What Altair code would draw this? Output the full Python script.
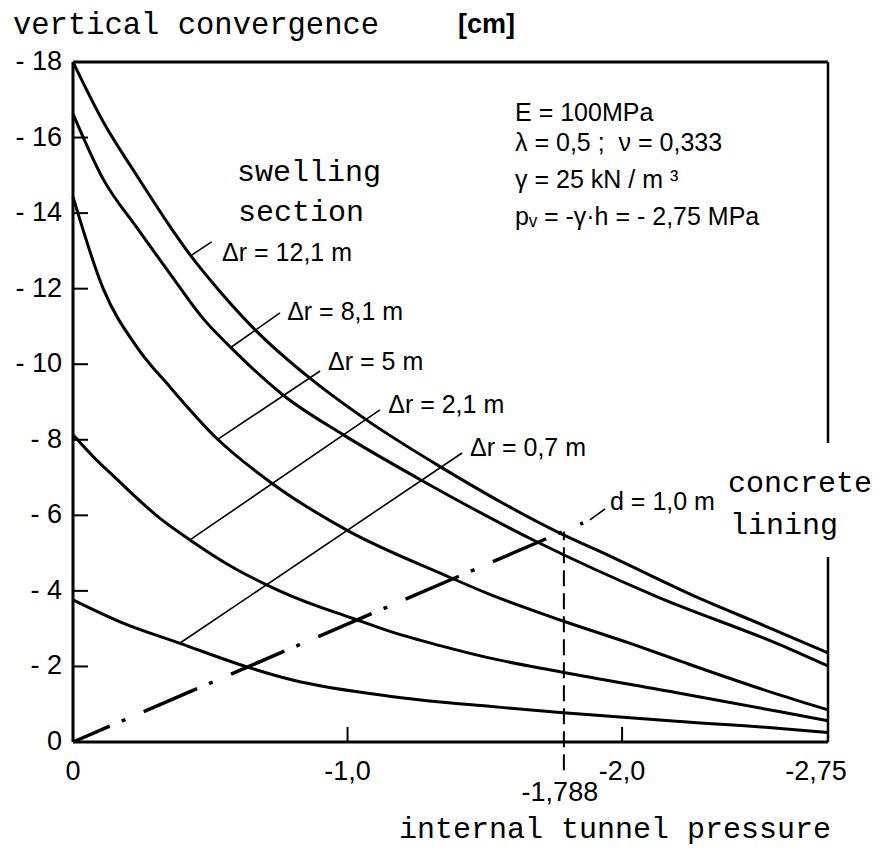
import altair as alt
import pandas as pd

# ---------------- curve data (internal pressure p [MPa], convergence u [cm]) ----------------
p_121 = [0, -0.11, -0.232, -0.353, -0.426, -0.536, -0.669, -0.863, -1.07, -1.337, -1.762, -1.956, -2.295, -2.515, -2.75]
u_121 = [-18.0, -16.42, -15.0, -13.65, -12.9, -11.92, -10.87, -9.63, -8.52, -7.29, -5.57, -4.92, -3.76, -3.09, -2.36]

p_81 = [0, -0.11, -0.232, -0.353, -0.475, -0.578, -0.766, -0.985, -1.264, -1.689, -2.126, -2.576, -2.75]
u_81 = [-16.63, -14.9, -13.62, -12.4, -11.2, -10.42, -9.18, -8.13, -6.95, -5.30, -3.85, -2.57, -2.01]

p_5 = [0, -0.11, -0.232, -0.353, -0.523, -0.724, -0.997, -1.36, -1.507, -1.774, -2.03, -2.22, -2.576, -2.75]
u_5 = [-14.43, -12.0, -10.46, -9.40, -8.04, -6.85, -5.61, -4.40, -3.94, -3.23, -2.61, -2.12, -1.24, -0.85]

p_21 = [0, -0.086, -0.146, -0.317, -0.426, -0.583, -0.705, -0.80, -1.02, -1.166, -1.337, -1.507, -1.774, -2.21, -2.576, -2.75]
u_21 = [-8.13, -7.46, -7.05, -5.92, -5.35, -4.62, -4.16, -3.85, -3.27, -2.90, -2.55, -2.24, -1.86, -1.29, -0.80, -0.56]

p_07 = [0, -0.171, -0.39, -0.633, -0.80, -1.166, -1.337, -1.507, -1.774, -2.21, -2.576, -2.75]
u_07 = [-3.76, -3.18, -2.61, -1.99, -1.64, -1.20, -1.06, -0.95, -0.78, -0.54, -0.36, -0.25]

series_names = ["12,1", "8,1", "5", "2,1", "0,7"]
series_p = [p_121, p_81, p_5, p_21, p_07]
series_u = [u_121, u_81, u_5, u_21, u_07]

# concrete lining characteristic line (d = 1,0 m)
lining_p = [0, -1.858]
lining_u = [0, -5.80]

# intersection marker
p_star = -1.788
u_star_top = -5.57
u_star_bottom = 0.75

# labels with leader lines
label_texts = ["Δr = 12,1 m", "Δr = 8,1 m", "Δr = 5 m", "Δr = 2,1 m", "Δr = 0,7 m", "d = 1,0 m"]
label_p = [-0.543, -0.78, -0.929, -1.148, -1.446, -1.956]
label_u = [-12.94, -11.38, -10.06, -8.92, -7.78, -6.35]
leader_p1 = [-0.432, -0.572, -0.523, -0.426, -0.39, -1.883]
leader_u1 = [-12.89, -10.43, -7.99, -5.35, -2.62, -5.88]
leader_p2 = [-0.505, -0.754, -0.90, -1.118, -1.417, -1.938]
leader_u2 = [-13.24, -11.36, -9.82, -8.79, -7.65, -6.17]

param_texts = ["E = 100MPa", "λ = 0,5 ;\u00a0\u00a0ν = 0,333", "γ = 25 kN / m\u00a0³", "pᵥ = -γ·h = - 2,75 MPa"]
param_p = [-1.61, -1.61, -1.61, -1.61]
param_u = [-16.65, -15.86, -14.88, -13.90]

note_texts = ["swelling", "section", "concrete", "lining"]
note_p = [-0.597, -0.601, -2.386, -2.393]
note_u = [-15.09, -14.03, -6.86, -5.74]

x_tick_values = [0, -1, -2]
x_tick_labels = ["0", "-1,0", "-2,0"]
x_end_value = [-2.75]
x_end_label = ["-2,75"]
y_tick_values = [0, -2, -4, -6, -8, -10, -12, -14, -16, -18]
y_tick_labels = ["0", "- 2", "- 4", "- 6", "- 8", "- 10", "- 12", "- 14", "- 16", "- 18"]

# ---------------- build tables ----------------
rows = []
for name, ps, us in zip(series_names, series_p, series_u):
    for p, u in zip(ps, us):
        rows.append({"series": name, "p": p, "u": u})
curves_df = pd.DataFrame(rows)
lining_df = pd.DataFrame({"p": lining_p, "u": lining_u})
star_df = pd.DataFrame({"p": [p_star], "u": [u_star_bottom], "u2": [u_star_top]})
labels_df = pd.DataFrame({"t": label_texts, "p": label_p, "u": label_u})
leaders_df = pd.DataFrame({"p": leader_p1, "u": leader_u1, "p2": leader_p2, "u2": leader_u2})
params_df = pd.DataFrame({"t": param_texts, "p": param_p, "u": param_u})
notes_df = pd.DataFrame({"t": note_texts, "p": note_p, "u": note_u})
xt_df = pd.DataFrame({"p": x_tick_values[1:]})
yt_df = pd.DataFrame({"u": y_tick_values[1:]})
xl_df = pd.DataFrame({"p": x_tick_values, "t": x_tick_labels})
xe_df = pd.DataFrame({"p": x_end_value, "t": x_end_label})
yl_df = pd.DataFrame({"u": y_tick_values, "t": y_tick_labels})

SANS = "Liberation Sans, Arial, DejaVu Sans"
MONO = "Liberation Mono, DejaVu Sans Mono, monospace"

xs = alt.Scale(domain=[-2.75, 0], reverse=True, nice=False, zero=False)
ys = alt.Scale(domain=[-18, 0], reverse=True, nice=False, zero=False)
X = alt.X("p:Q", scale=xs, axis=None)
Y = alt.Y("u:Q", scale=ys, axis=None)

curves = alt.Chart(curves_df).mark_line(color="black", strokeWidth=3, interpolate="monotone").encode(
    x=X, y=Y, detail="series:N",
)

lining = alt.Chart(lining_df).mark_line(color="black", strokeWidth=3.5,
                                        strokeDash=[58, 13, 4, 20], strokeDashOffset=18,
                                        strokeCap="butt", clip=False).encode(x=X, y=Y)

star = alt.Chart(star_df).mark_rule(color="black", strokeWidth=2, strokeDash=[16, 7], clip=False).encode(
    x=X, y=Y, y2="u2:Q",
)

leaders = alt.Chart(leaders_df).mark_rule(color="black", strokeWidth=1.6).encode(
    x=X, y=Y, x2="p2:Q", y2="u2:Q",
)

labels = alt.Chart(labels_df).mark_text(align="left", baseline="middle", font=SANS, fontSize=25,
                                        color="black").encode(x=X, y=Y, text="t:N")

params = alt.Chart(params_df).mark_text(align="left", baseline="middle", font=SANS, fontSize=25,
                                        color="black").encode(x=X, y=Y, text="t:N")

notes = alt.Chart(notes_df).mark_text(align="left", baseline="middle", font=MONO, fontSize=30,
                                      color="black", clip=False).encode(x=X, y=Y, text="t:N")

# tick labels through the scales
xlabels = alt.Chart(xl_df).mark_text(align="center", baseline="middle", font=SANS, fontSize=27,
                                     color="black").encode(x=X, y=alt.value(710), text="t:N")
xend = alt.Chart(xe_df).mark_text(align="center", baseline="middle", font=SANS, fontSize=27,
                                  color="black", dx=-12).encode(x=X, y=alt.value(710), text="t:N")
ylabels = alt.Chart(yl_df).mark_text(align="right", baseline="middle", font=SANS, fontSize=27,
                                     color="black").encode(x=alt.value(-11), y=Y, text="t:N")

xticks = alt.Chart(xt_df).mark_rule(color="black", strokeWidth=2).encode(
    x=X, y=alt.value(680), y2=alt.value(665),
)
yticks = alt.Chart(yt_df).mark_rule(color="black", strokeWidth=2).encode(
    y=Y, x=alt.value(0), x2=alt.value(15),
)

frame_df = pd.DataFrame({"k": ["left", "bottom", "top", "right1", "right2"]})
frame_left = alt.Chart(frame_df.iloc[[0]]).mark_rule(color="black", strokeWidth=3).encode(
    x=alt.value(0), y=alt.value(0), y2=alt.value(680))
frame_bottom = alt.Chart(frame_df.iloc[[1]]).mark_rule(color="black", strokeWidth=3).encode(
    x=alt.value(0), x2=alt.value(755), y=alt.value(680))
frame_top = alt.Chart(frame_df.iloc[[2]]).mark_rule(color="black", strokeWidth=3).encode(
    x=alt.value(0), x2=alt.value(755), y=alt.value(0))
frame_r1 = alt.Chart(frame_df.iloc[[3]]).mark_rule(color="black", strokeWidth=2.5).encode(
    x=alt.value(755), y=alt.value(0), y2=alt.value(381))
frame_r2 = alt.Chart(frame_df.iloc[[4]]).mark_rule(color="black", strokeWidth=2.5).encode(
    x=alt.value(755), y=alt.value(495), y2=alt.value(680))

star_label = alt.Chart(pd.DataFrame({"p": [p_star], "t": ["-1,788"]})).mark_text(
    align="center", baseline="middle", font=SANS, fontSize=27, color="black", dx=-4).encode(
    x=X, y=alt.value(731), text="t:N",
)

titles_df = pd.DataFrame({"t": ["vertical convergence", "internal tunnel pressure"]})
ytitle = alt.Chart(titles_df.iloc[[0]]).mark_text(align="left", baseline="middle", font=MONO,
                                                  fontSize=30.5, color="black").encode(
    x=alt.value(-60), y=alt.value(-37), text="t:N")
xtitle = alt.Chart(titles_df.iloc[[1]]).mark_text(align="center", baseline="middle", font=MONO,
                                                  fontSize=30, color="black").encode(
    x=alt.value(542), y=alt.value(767), text="t:N")
unit = alt.Chart(pd.DataFrame({"t": ["[cm]"]})).mark_text(align="left", baseline="middle", font=SANS,
                                                        fontSize=27, color="black", fontWeight="bold").encode(
    x=alt.value(385), y=alt.value(-37), text="t:N")

chart = alt.layer(
    curves, lining, star, leaders, labels, params, notes, xlabels, xend, ylabels, xticks, yticks,
    frame_left, frame_bottom, frame_top, frame_r1, frame_r2, star_label, ytitle, xtitle, unit,
).properties(
    width=755, height=680,
    autosize=alt.AutoSizeParams(type="none"),
    padding={"left": 65, "top": 54, "right": 48, "bottom": 104},
    background="white",
).configure_view(stroke=None)

chart.save("out.html", embed_options={"renderer": "svg", "actions": False})
